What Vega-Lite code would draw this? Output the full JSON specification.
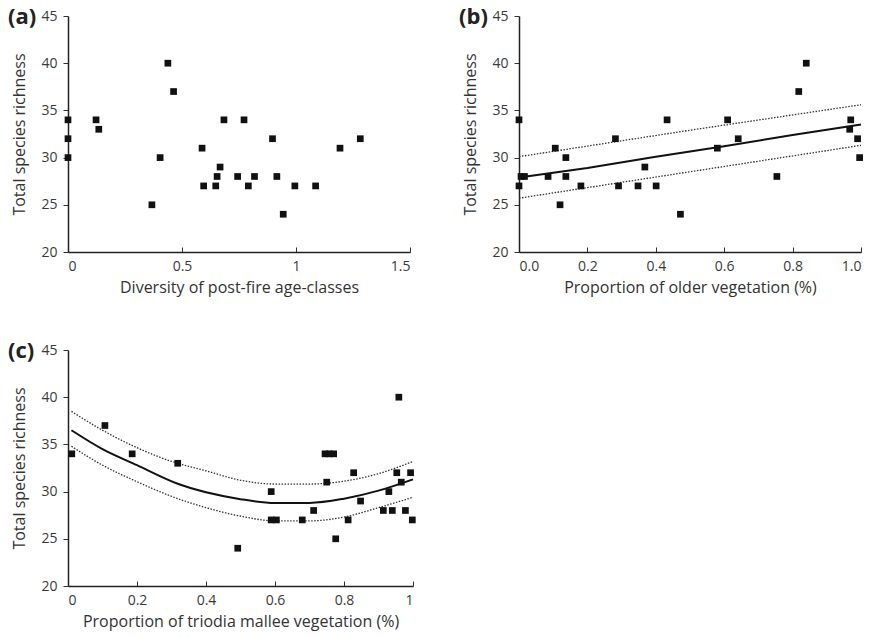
{
  "$schema": "https://vega.github.io/schema/vega-lite/v6.json",
  "padding": {"left": 8, "top": 6, "right": 5, "bottom": 5},
  "background": "white",
  "config": {
    "view": {"stroke": null},
    "font": "Open Sans",
    "axis": {
      "grid": false,
      "domainColor": "#222",
      "domainWidth": 1.5,
      "tickColor": "#333",
      "tickWidth": 1,
      "labelColor": "#3a3a3a",
      "labelFont": "Open Sans",
      "labelFontSize": 14,
      "titleFont": "Open Sans",
      "titleFontSize": 16,
      "titleFontWeight": "normal",
      "titleColor": "#333"
    },
    "axisX": {"tickSize": -5, "labelPadding": 12, "titlePadding": 6},
    "axisY": {"tickSize": 5, "labelPadding": 6, "titlePadding": 13},
    "title": {"fontSize": 22, "fontWeight": "bold", "color": "#222", "anchor": "start", "frame": "group"}
  },
  "datasets": {
    "a": [
      {"x": 0, "y": 34}, {"x": 0, "y": 32}, {"x": 0, "y": 30},
      {"x": 0.123, "y": 34}, {"x": 0.135, "y": 33}, {"x": 0.368, "y": 25},
      {"x": 0.404, "y": 30}, {"x": 0.438, "y": 40}, {"x": 0.463, "y": 37},
      {"x": 0.588, "y": 31}, {"x": 0.595, "y": 27}, {"x": 0.648, "y": 27},
      {"x": 0.654, "y": 28}, {"x": 0.667, "y": 29}, {"x": 0.684, "y": 34},
      {"x": 0.744, "y": 28}, {"x": 0.772, "y": 34}, {"x": 0.791, "y": 27},
      {"x": 0.818, "y": 28}, {"x": 0.897, "y": 32}, {"x": 0.916, "y": 28},
      {"x": 0.944, "y": 24}, {"x": 0.995, "y": 27}, {"x": 1.086, "y": 27},
      {"x": 1.193, "y": 31}, {"x": 1.282, "y": 32}
    ],
    "b": [
      {"x": 0, "y": 34}, {"x": 0, "y": 27}, {"x": 0.006, "y": 28}, {"x": 0.016, "y": 28},
      {"x": 0.085, "y": 28}, {"x": 0.106, "y": 31}, {"x": 0.12, "y": 25},
      {"x": 0.137, "y": 30}, {"x": 0.137, "y": 28}, {"x": 0.181, "y": 27},
      {"x": 0.282, "y": 32}, {"x": 0.291, "y": 27}, {"x": 0.348, "y": 27},
      {"x": 0.368, "y": 29}, {"x": 0.401, "y": 27}, {"x": 0.433, "y": 34},
      {"x": 0.472, "y": 24}, {"x": 0.58, "y": 31}, {"x": 0.61, "y": 34},
      {"x": 0.641, "y": 32}, {"x": 0.754, "y": 28}, {"x": 0.818, "y": 37},
      {"x": 0.84, "y": 40}, {"x": 0.967, "y": 33}, {"x": 0.97, "y": 34},
      {"x": 0.99, "y": 32}, {"x": 0.996, "y": 30}
    ],
    "bfit": [
      {"x": 0, "y": 27.9, "s": "fit"}, {"x": 0.2, "y": 28.9, "s": "fit"}, {"x": 0.4, "y": 30.1, "s": "fit"},
      {"x": 0.6, "y": 31.2, "s": "fit"}, {"x": 0.8, "y": 32.4, "s": "fit"}, {"x": 1.0, "y": 33.5, "s": "fit"},
      {"x": 0, "y": 30.1, "s": "upper"}, {"x": 0.5, "y": 32.9, "s": "upper"}, {"x": 1.0, "y": 35.6, "s": "upper"},
      {"x": 0, "y": 25.7, "s": "lower"}, {"x": 0.5, "y": 28.5, "s": "lower"}, {"x": 1.0, "y": 31.3, "s": "lower"}
    ],
    "c": [
      {"x": 0.011, "y": 34}, {"x": 0.107, "y": 37}, {"x": 0.186, "y": 34},
      {"x": 0.318, "y": 33}, {"x": 0.492, "y": 24}, {"x": 0.589, "y": 30},
      {"x": 0.589, "y": 27}, {"x": 0.604, "y": 27}, {"x": 0.679, "y": 27},
      {"x": 0.712, "y": 28}, {"x": 0.745, "y": 34}, {"x": 0.757, "y": 34},
      {"x": 0.77, "y": 34}, {"x": 0.75, "y": 31}, {"x": 0.776, "y": 25},
      {"x": 0.812, "y": 27}, {"x": 0.828, "y": 32}, {"x": 0.848, "y": 29},
      {"x": 0.914, "y": 28}, {"x": 0.93, "y": 30}, {"x": 0.94, "y": 28},
      {"x": 0.953, "y": 32}, {"x": 0.959, "y": 40}, {"x": 0.966, "y": 31},
      {"x": 0.978, "y": 28}, {"x": 0.993, "y": 32}, {"x": 0.998, "y": 27}
    ],
    "cfit": [
      {"x": 0.01, "y": 36.5, "s": "fit"}, {"x": 0.1, "y": 34.5, "s": "fit"}, {"x": 0.2, "y": 32.8, "s": "fit"},
      {"x": 0.32, "y": 30.8, "s": "fit"}, {"x": 0.5, "y": 29.2, "s": "fit"}, {"x": 0.6, "y": 28.8, "s": "fit"},
      {"x": 0.7, "y": 28.8, "s": "fit"}, {"x": 0.8, "y": 29.25, "s": "fit"}, {"x": 0.9, "y": 30.1, "s": "fit"},
      {"x": 1.0, "y": 31.3, "s": "fit"},
      {"x": 0.01, "y": 38.5, "s": "upper"}, {"x": 0.1, "y": 36.5, "s": "upper"}, {"x": 0.2, "y": 34.65, "s": "upper"},
      {"x": 0.3, "y": 33.2, "s": "upper"}, {"x": 0.4, "y": 32.2, "s": "upper"}, {"x": 0.5, "y": 31.2, "s": "upper"},
      {"x": 0.6, "y": 30.8, "s": "upper"}, {"x": 0.7, "y": 30.8, "s": "upper"}, {"x": 0.8, "y": 31.1, "s": "upper"},
      {"x": 0.9, "y": 31.9, "s": "upper"}, {"x": 1.0, "y": 33.2, "s": "upper"},
      {"x": 0.01, "y": 34.8, "s": "lower"}, {"x": 0.1, "y": 32.8, "s": "lower"}, {"x": 0.2, "y": 31.05, "s": "lower"},
      {"x": 0.3, "y": 29.5, "s": "lower"}, {"x": 0.4, "y": 28.3, "s": "lower"}, {"x": 0.5, "y": 27.4, "s": "lower"},
      {"x": 0.6, "y": 26.9, "s": "lower"}, {"x": 0.7, "y": 26.9, "s": "lower"}, {"x": 0.8, "y": 27.3, "s": "lower"},
      {"x": 0.9, "y": 28.3, "s": "lower"}, {"x": 1.0, "y": 29.4, "s": "lower"}
    ]
  },
  "spacing": 45,
  "vconcat": [
    {
      "spacing": 48,
      "hconcat": [
        {
          "width": 342, "height": 236,
          "title": {"text": "(a)", "dx": -60, "dy": 24},
          "data": {"name": "a"},
          "mark": {"type": "point", "shape": "square", "filled": true, "size": 45, "color": "#111", "opacity": 1},
          "encoding": {
            "x": {"field": "x", "type": "quantitative", "scale": {"domain": [0, 1.5], "nice": false},
                  "axis": {"values": [0, 0.5, 1, 1.5], "format": ".1~f", "title": "Diversity of post-fire age-classes"}},
            "y": {"field": "y", "type": "quantitative", "scale": {"domain": [20, 45], "nice": false, "zero": false},
                  "axis": {"values": [20, 25, 30, 35, 40, 45], "title": "Total species richness"}}
          }
        },
        {
          "width": 342, "height": 236,
          "title": {"text": "(b)", "dx": -60, "dy": 24},
          "layer": [
            {
              "data": {"name": "bfit"},
              "transform": [{"filter": "datum.s === 'fit'"}],
              "mark": {"type": "line", "color": "#111", "strokeWidth": 2},
              "encoding": {
                "x": {"field": "x", "type": "quantitative"},
                "y": {"field": "y", "type": "quantitative"}
              }
            },
            {
              "data": {"name": "bfit"},
              "transform": [{"filter": "datum.s !== 'fit'"}],
              "mark": {"type": "line", "color": "#333", "strokeWidth": 1.3, "strokeDash": [1.5, 1.5]},
              "encoding": {
                "x": {"field": "x", "type": "quantitative"},
                "y": {"field": "y", "type": "quantitative"},
                "detail": {"field": "s"}
              }
            },
            {
              "data": {"name": "b"},
              "mark": {"type": "point", "shape": "square", "filled": true, "size": 45, "color": "#111", "opacity": 1},
              "encoding": {
                "x": {"field": "x", "type": "quantitative"},
                "y": {"field": "y", "type": "quantitative"}
              }
            }
          ],
          "encoding": {
            "x": {"field": "x", "type": "quantitative", "scale": {"domain": [0, 1], "nice": false},
                  "axis": {"values": [0, 0.2, 0.4, 0.6, 0.8, 1.0], "format": ".1f", "title": "Proportion of older vegetation (%)"}},
            "y": {"field": "y", "type": "quantitative", "scale": {"domain": [20, 45], "nice": false, "zero": false},
                  "axis": {"values": [20, 25, 30, 35, 40, 45], "title": "Total species richness"}}
          }
        }
      ]
    },
    {
      "width": 345, "height": 236,
      "title": {"text": "(c)", "dx": -60, "dy": 24},
      "layer": [
        {
          "data": {"name": "cfit"},
          "transform": [{"filter": "datum.s === 'fit'"}],
          "mark": {"type": "line", "color": "#111", "strokeWidth": 2, "interpolate": "monotone"},
          "encoding": {
            "x": {"field": "x", "type": "quantitative"},
            "y": {"field": "y", "type": "quantitative"}
          }
        },
        {
          "data": {"name": "cfit"},
          "transform": [{"filter": "datum.s !== 'fit'"}],
          "mark": {"type": "line", "color": "#333", "strokeWidth": 1.3, "strokeDash": [1.5, 1.5], "interpolate": "monotone"},
          "encoding": {
            "x": {"field": "x", "type": "quantitative"},
            "y": {"field": "y", "type": "quantitative"},
            "detail": {"field": "s"}
          }
        },
        {
          "data": {"name": "c"},
          "mark": {"type": "point", "shape": "square", "filled": true, "size": 45, "color": "#111", "opacity": 1},
          "encoding": {
            "x": {"field": "x", "type": "quantitative"},
            "y": {"field": "y", "type": "quantitative"}
          }
        }
      ],
      "encoding": {
        "x": {"field": "x", "type": "quantitative", "scale": {"domain": [0, 1], "nice": false},
              "axis": {"values": [0, 0.2, 0.4, 0.6, 0.8, 1], "format": ".1~f", "title": "Proportion of triodia mallee vegetation (%)"}},
        "y": {"field": "y", "type": "quantitative", "scale": {"domain": [20, 45], "nice": false, "zero": false},
              "axis": {"values": [20, 25, 30, 35, 40, 45], "title": "Total species richness"}}
      }
    }
  ]
}
